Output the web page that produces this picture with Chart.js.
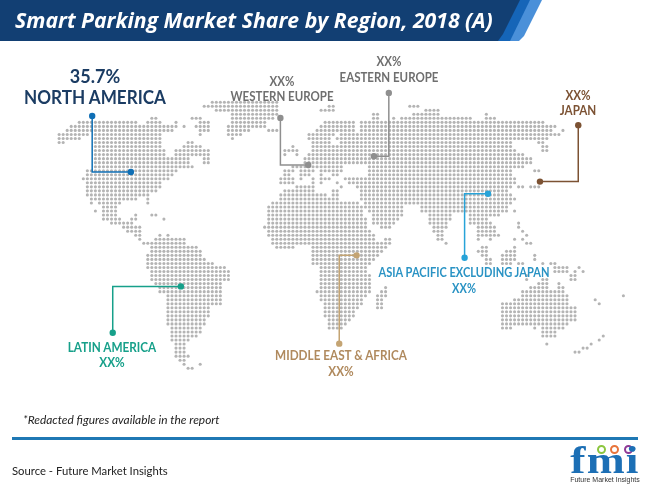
<!DOCTYPE html>
<html><head><meta charset="utf-8">
<script src="https://cdn.jsdelivr.net/npm/chart.js@4"></script>
<style>
html,body{margin:0;padding:0;background:#fff;width:650px;height:492px;overflow:hidden}
#wrap{position:relative;width:650px;height:492px;font-family:"Lato",sans-serif}
canvas{position:absolute;left:0;top:0}
.t{position:absolute;white-space:nowrap;font-weight:700;line-height:1}
.band{position:absolute;left:0;top:0;width:650px;height:41px}
#title{position:absolute;left:15px;top:8px;color:#fff;font-family:"Open Sans",sans-serif;font-weight:700;font-style:italic;font-size:21.2px;line-height:24px;white-space:nowrap}
#rule{position:absolute;left:12px;top:437px;width:626px;height:2.5px;background:#1f78b4}
</style></head><body>
<div id="wrap">
<canvas id="c" width="650" height="492"></canvas>
<div class="band" style="background:#4a90d9;clip-path:polygon(0 0,542px 0,524px 36px,519px 41px,0 41px)"></div>
<div class="band" style="background:#1565b8;clip-path:polygon(0 0,530px 0,510px 41px,0 41px)"></div>
<div class="band" style="background:#123f73;clip-path:polygon(0 0,520px 0,503px 34px,498px 41px,0 41px)"></div>
<div id="title">Smart Parking Market Share by Region, 2018 (A)</div>
<div id="labels"></div>
<div style="position:absolute;left:23px;top:412px;font-size:11.9px;font-style:italic;color:#222;white-space:nowrap">*Redacted figures available in the report</div>
<div id="rule"></div>
<div style="position:absolute;left:12px;top:464px;font-size:11.3px;color:#222;white-space:nowrap">Source - Future Market Insights</div>
<div style="position:absolute;left:570px;top:446px;width:70px;height:40px">
  <span style="position:absolute;left:27px;top:-1px;width:5px;height:5px;border:2.5px solid #8cc63f;border-radius:50%"></span>
  <span style="position:absolute;left:40px;top:-1px;width:5px;height:5px;border:2.5px solid #e8743b;border-radius:50%"></span>
  <span style="position:absolute;left:54px;top:-1px;width:5px;height:5px;border:2.5px solid #8e3a96;border-radius:50%"></span>
  <span style="position:absolute;left:0;top:-6px;width:70px;text-align:center;font:700 38px/40px 'Liberation Serif',serif;color:#1c6fb5;letter-spacing:1px;transform:scaleX(1.2)">fmi</span>
  <span style="position:absolute;left:0;top:29px;width:70px;text-align:center;font:400 7px/9px 'Liberation Sans',sans-serif;color:#333;white-space:nowrap">Future Market Insights</span>
</div>
</div>
<script>
// Dot-map rows: [row, firstCol, lastCol, firstCol, lastCol, ...]
const northAmericaRows = [
[25,52,68],[26,50,68],[27,53,68],[28,57,68],[29,37,38,47,49,57,67],
[30,19,28,29,33,36,38,39,39,43,43,49,51,57,65],[31,17,28,29,43,45,45,48,51,56,65],
[32,16,22,23,42,49,51,56,61,66,68],[33,14,19,20,21,23,39,49,49,56,59],[34,14,19,23,39,57,57],
[35,14,15,23,39,46,47],[36,23,39,45,49],[37,23,40,43,51],[38,23,40,43,51],
[39,23,46,50,51],[40,23,46,50,51],[41,23,47],[42,21,43],[43,21,42],[44,20,41],[45,21,39],
[46,21,39],[47,21,38],[48,21,36],[49,22,33,36,36],[50,22,22,24,29,36,36],[51,25,28],
[52,23,23,25,28],[53,25,28,33,33,37,38],[54,25,29,32,33,40,40],[55,27,32],[56,30,34],
[57,31,34],[58,33,34]
];
const southAmericaRows = [
[58,39,39,41,41],[59,34,34,38,45],[60,35,45],[61,37,48],[62,37,49],[63,36,49],[64,36,50],[65,36,52],
[66,36,55],[67,37,56],[68,37,56],[69,37,56],[70,38,54],[71,39,54],[72,39,54],[73,41,54],
[74,41,54],[75,41,54],[76,41,51],[77,41,51],[78,41,51],[79,41,50],[80,41,50],[81,42,49],
[82,42,49],[83,42,48],[84,42,46],[85,43,45],[86,43,45],[87,43,45],[88,43,46],[89,44,45],
[90,45,45,49,49],[91,46,47]
];
const eurasiaRows = [
[26,81,82,101,103],[27,79,82,105,108],[28,92,93,102,108,120,120],[29,92,93,97,97,99,116,120,122],
[30,80,87,89,134],[31,79,87,89,137],[32,78,87,89,136,139,139],[33,76,82,84,138],[34,76,81,83,135],
[35,77,81,84,126,133,134],[36,72,72,77,82,83,126,134,135],[37,70,73,77,127,134,135],
[38,70,70,73,73,76,129],[39,75,131],[40,75,131],[41,72,84,91,129],
[42,70,72,74,77,79,84,91,126,132,133],[43,70,71,74,76,79,79,82,83,91,126],
[44,69,72,74,74,77,77,79,81,85,127],[45,69,72,77,77,79,79,83,83,86,127],
[46,88,126,128,129,131,133],[47,89,125],[48,89,126],[49,89,127],[50,96,126],[51,104,125],
[52,104,125,127,127],[53,106,111,116,123],[54,106,111,116,120],[55,106,110,116,121,128,128],
[56,107,110,118,122,128,128],[57,107,109,118,122,129,129],[58,108,109,118,123,130,130],
[59,108,109,118,118,121,121,127,127,129,129],[60,110,110,130,131],[61,119,120,127,127],
[62,118,120,125,127],[63,119,120,124,127,132,132],[64,120,121,124,127,132,132],
[65,120,121,124,126,128,129,134,134,136,137],[66,137,140,143,143],[67,137,140,142,142,144,144],
[68,130,130,141,142],[69,130,130,141,142]
];
const africaRows = [
[46,73,77,84,84],[47,70,77,82,83],[48,69,80,82,83],[49,69,83],[50,67,88,90,95],[51,66,89,90,99],
[52,66,89,91,99],[53,66,89,92,99],[54,66,90,92,98],[55,66,90,92,97],[56,65,90,94,96],
[57,66,91],[58,66,92],[59,67,92,95,96],[60,67,96],[61,68,72,77,95],[62,77,94],[63,77,93],
[64,77,92],[65,77,91],[66,79,90],[67,79,90],[68,79,91],[69,79,91],[70,79,91],[71,79,91,95,95],
[72,78,91,94,95],[73,79,90,93,95],[74,79,89,93,94],[75,80,89,93,94],[76,80,88,93,94],
[77,80,87],[78,80,87],[79,81,86],[80,81,85],[81,81,84]
];
const oceaniaRows = [
[69,134,135],[70,133,135,138,138],[71,131,135,138,139],[72,129,139],[73,129,140,154,154],
[74,127,140,147,147],[75,124,140,148,148],[76,124,142],[77,124,142],[78,124,142],[79,124,142],
[80,124,140],[81,124,126,132,132,134,139],[82,134,137],[83,134,137,149,149],[84,148,148],
[85,135,135,146,146],[86,144,145],[87,142,143]
];
const mapRows = [northAmericaRows, southAmericaRows, eurasiaRows, africaRows, oceaniaRows];

// Region callouts: marker, elbow, map anchor in grid units
const regionNames = ["NORTH AMERICA","WESTERN EUROPE","EASTERN EUROPE","JAPAN","ASIA PACIFIC EXCLUDING JAPAN","MIDDLE EAST & AFRICA","LATIN AMERICA"];
const regionShares = ["35.7%","XX%","XX%","XX%","XX%","XX%","XX%"];
const regionColors = ["#0f6fb5","#8f8f8f","#8f8f8f","#7c5233","#27a3d8","#c4a473","#16a08a"];
const regionPaths = [
 [[22.2,28.4],[22.2,42.3],[31.8,42.3]],
 [[68.9,28.9],[68.9,40.6],[75.8,40.6]],
 [[95.8,22.7],[95.8,38.4],[92.1,38.4]],
 [[142.8,30.7],[142.8,44.7],[133.3,44.7]],
 [[114.6,63.6],[114.6,47.7],[120.4,47.7]],
 [[83.5,84.9],[83.5,63],[87.8,63]],
 [[27.3,82.2],[27.3,70.7],[44.2,70.7]]
];
// Label layout: [centre x, share y, name y, share size, name size, text colour, horizontal squeeze]
const regionLabels = [
 [95,75,97,19,18,"#1b3c63",0.95],
 [282,82,97,12.5,12.5,"#6f6f6f",0.92],
 [389,62,78,12.5,12.5,"#6f6f6f",0.92],
 [578,96,111,12.5,12.5,"#7c5233",0.93],
 [464,289,273,12.5,12.5,"#2a93c4",0.885],
 [341,372,356,12.5,12.5,"#b08a5e",0.94],
 [112,363,348,12.5,12.5,"#17a08a",0.94]
];

const dots = [];
mapRows.forEach(group => group.forEach(row => {
  for (let i = 1; i < row.length; i += 2)
    for (let c = row[i]; c <= row[i + 1]; c++) dots.push({x: c, y: row[0]});
}));

const datasets = [{
  data: dots, showLine: false, pointRadius: 1.55, pointHoverRadius: 1.55, order: 10,
  pointBackgroundColor: "#b4b4b4", pointBorderWidth: 0
}];
regionPaths.forEach((p, i) => datasets.push({
  data: p.map(q => ({x: q[0], y: q[1]})), showLine: true, borderColor: regionColors[i], order: 1,
  borderWidth: 1.5, tension: 0, backgroundColor: regionColors[i],
  pointBackgroundColor: regionColors[i], pointBorderWidth: 0, pointRadius: [3.2, 0, 3.2]
}));

new Chart(document.getElementById("c"), {
  type: "scatter",
  data: {datasets},
  options: {
    responsive: false, animation: false, events: [],
    layout: {padding: 0, autoPadding: false},
    plugins: {legend: {display: false}, tooltip: {enabled: false}, title: {display: false}},
    scales: {
      x: {type: "linear", display: false, min: -0.67, max: 160.6},
      y: {type: "linear", display: false, reverse: true, min: -0.35, max: 121.7}
    }
  }
});

const host = document.getElementById("labels");
function addText(txt, x, y, size, col, sq) {
  const d = document.createElement("div");
  d.className = "t"; d.textContent = txt;
  d.style.cssText = `left:${x}px;top:${y}px;font-size:${size}px;color:${col};transform:translate(-50%,-50%) scaleX(${sq})`;
  host.appendChild(d);
}
regionLabels.forEach((l, i) => {
  addText(regionShares[i], l[0], l[1], l[3], l[5], l[6]);
  addText(regionNames[i], l[0], l[2], l[4], l[5], l[6]);
});
</script>
</body></html>
